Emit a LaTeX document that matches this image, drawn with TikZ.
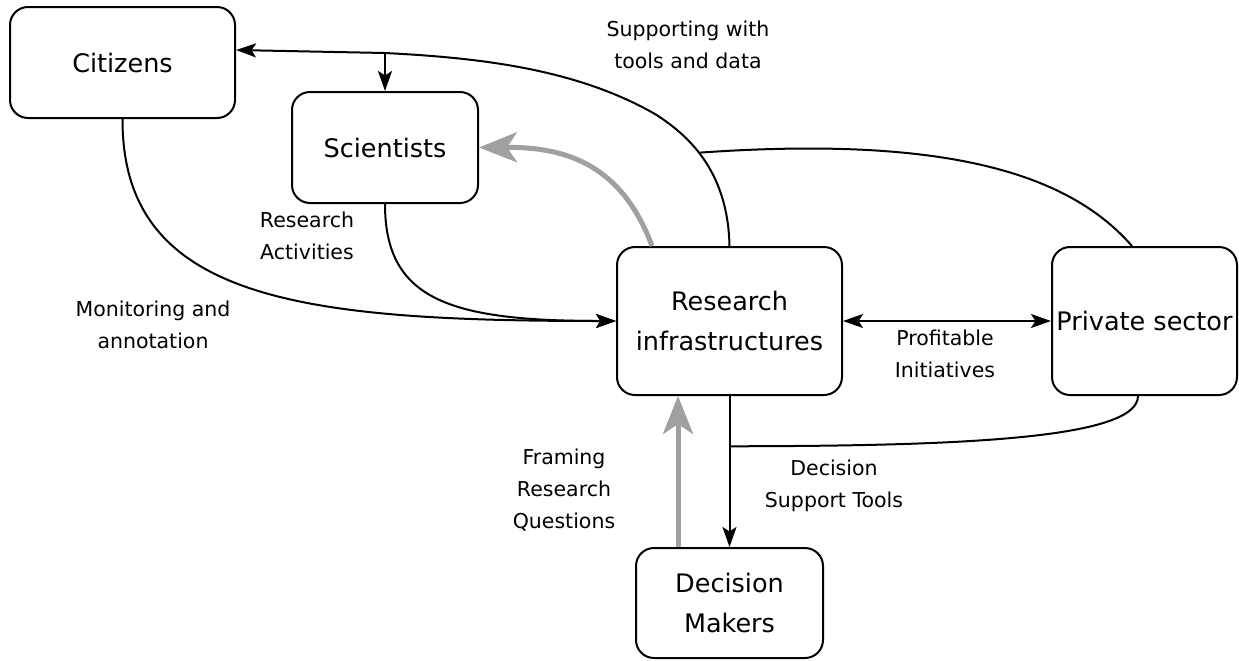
\documentclass[tikz,border=0pt]{standalone}
\usepackage{fontspec}
\setmainfont{DejaVu Sans}
\usetikzlibrary{arrows.meta,calc}
\definecolor{graya}{RGB}{160,160,160}
\begin{document}
\begin{tikzpicture}[x=0.5pt,y=-0.5pt,
  box/.style={draw, line width=1pt, rounded corners=9pt, inner sep=0pt, align=center, font=\fontsize{12.75}{20}\selectfont},
  lbl/.style={align=center, inner sep=0pt, font=\fontsize{10.25}{16}\selectfont},
  tipb/.tip={Stealth[length=10pt,width=7pt,inset=2.2pt]},
  arr/.style={line width=1pt, -tipb},
  darr/.style={line width=1pt, tipb-tipb},
  plainline/.style={line width=1pt},
  garr/.style={line width=2.5pt, draw=graya, -{Stealth[length=19pt,width=15pt,inset=5pt]}}
]
\fill[white] (0,0) rectangle (1239,660);
\useasboundingbox (0,0) rectangle (1239,660);

% boxes
\node[box, minimum width=112.5pt, minimum height=55.5pt] (cit) at (122.5,62.5) {Citizens};
\node[box, minimum width=93pt, minimum height=55.5pt] (sci) at (385,147.5) {Scientists};
\node[box, minimum width=112.5pt, minimum height=74pt] (ri) at (729.5,321) {Research\\infrastructures};
\node[box, minimum width=92.5pt, minimum height=74pt] (ps) at (1144.5,321) {Private sector};
\node[box, minimum width=93.5pt, minimum height=55pt] (dm) at (729.5,603) {Decision\\Makers};

% supporting with tools and data
\draw[arr] (ri.north) .. controls (728,175) and (693,138) .. (655,114) coordinate[pos=0.58] (j1)
  .. controls (578,70) and (485,58) .. (385,53) coordinate (b)
  -- ($(cit.east)+(0,-12.5)$);
\draw[arr] (b) -- (b |- sci.north);

% private sector upper link
\draw[plainline] (j1) .. controls (950,135) and (1070,175) .. ($(ps.north)+(-12.5,0)$);

% RI to decision makers
\draw[arr] (ri.south) -- (dm.north) coordinate[pos=0.333] (j2);
\draw[plainline] (j2) .. controls (950,446) and (1138,440) .. ($(ps.south)+(-6.5,0)$);

% citizens and scientists to RI
\draw[arr] (cit.south) .. controls (122,300) and (300,321) .. (ri.west);
\draw[arr] (sci.south) .. controls (385,300) and (450,321) .. (ri.west);

% profitable initiatives
\draw[darr] (ri.east) -- (ps.west);

% gray arrows
\draw[garr] ($(dm.north)+(-51.5,0)$) -- ($(ri.south)+(-51.5,0)$);
\draw[garr] ($(ri.north)+(-77.5,0)$) .. controls (620,160) and (560,147) .. (sci.east);

% labels
\node[lbl] (lsup) at (688,45) {Supporting with\\tools and data};
\node[lbl] (lres) at (307,236) {Research\\Activities};
\node[lbl] (lmon) at (153,325) {Monitoring and\\annotation};
\node[lbl] (lprof) at (945,354) {Profitable\\Initiatives};
\node[lbl] (lfram) at (564,490) {Framing\\Research\\Questions};
\node[lbl] (ldst) at (834,486) {Decision\\Support Tools};
\end{tikzpicture}
\end{document}
